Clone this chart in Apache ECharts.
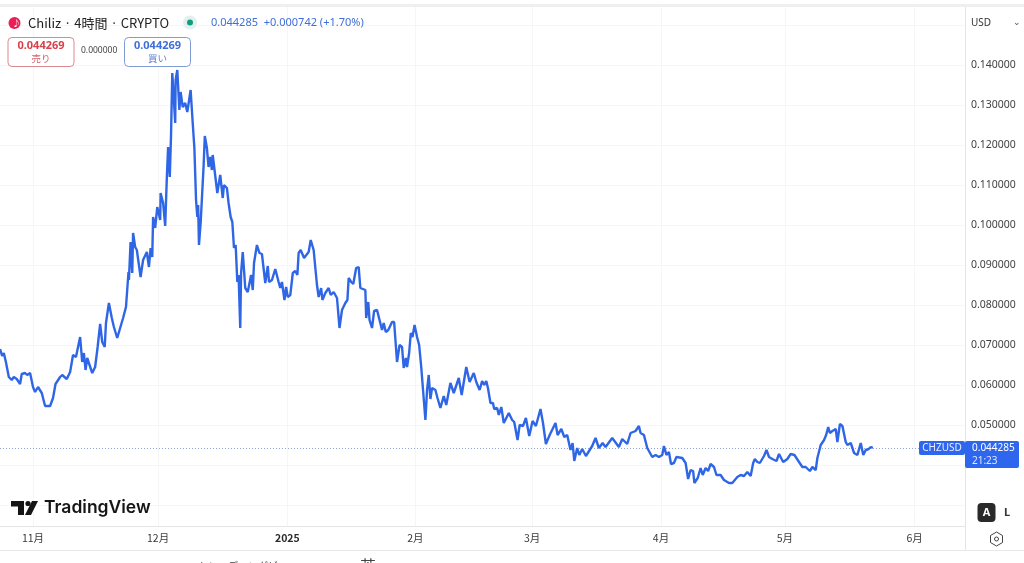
<!DOCTYPE html>
<html><head><meta charset="utf-8">
<style>html,body{margin:0;padding:0;background:#fff}#c{width:1024px;height:563px}</style>
<script src="https://cdn.jsdelivr.net/npm/echarts@6/dist/echarts.min.js"></script>
</head><body><div id="c"></div>
<script>
// Days since 2024-11-01 for each reading
const days = [-7.9,-7.4,-7.0,-6.5,-6.2,-5.8,-5.1,-4.6,-3.9,-3.1,-2.7,-1.9,-1.4,-0.7,0,0.5,1.2,2.1,2.9,4.1,4.8,5.4,6.5,7.0,8.1,8.9,9.6,10.3,11.3,11.8,12.2,12.6,13.0,13.4,14.2,14.9,15.5,16.1,16.6,17.2,17.5,18.2,18.9,19.4,20.2,20.6,21.6,22.3,22.9,23.0,23.4,23.8,24.0,24.5,24.9,25.8,26.4,27.3,27.8,28.2,28.6,28.8,29.3,29.8,30.5,30.6,31.2,31.7,32.1,32.4,32.8,33.1,33.4,33.6,34.1,34.2,34.6,35.1,35.4,35.9,36.5,37.0,37.8,38.3,38.7,39.1,39.4,39.6,39.8,40.2,40.9,41.2,41.7,42.1,42.5,42.9,43.1,44.2,44.9,45.5,45.8,46.5,46.9,47.4,47.8,48.2,48.6,49.0,49.3,49.7,49.9,50.3,50.9,51.5,51.9,52.3,52.7,53.0,53.7,54.3,54.9,55.7,56.3,56.6,57.3,58.1,58.9,59.3,59.7,60.3,60.7,61.1,61.7,62.3,62.9,63.4,63.7,64.2,65.0,66.1,66.6,67.3,68.1,68.5,69.1,69.4,70.1,70.9,71.4,72.1,72.9,73.5,74.1,74.9,75.4,75.7,76.3,76.8,77.5,78.1,78.5,79.7,79.9,80.4,80.7,81.3,81.8,82.5,83.7,84.1,84.6,85.2,86.1,86.6,87.3,87.9,88.5,88.9,89.4,89.7,90.2,90.6,91.0,91.5,92.1,92.6,93.1,93.5,94.1,94.5,94.9,95.3,95.7,96.5,97.0,97.7,98.5,99.1,100.1,100.9,102.1,102.8,103.9,104.7,105.7,106.3,107.1,107.7,108.2,108.7,109.1,109.7,110.3,110.6,111.3,111.7,112.3,112.9,114.1,114.9,115.4,116.2,116.7,117.5,118.2,119.0,119.8,120.6,121.7,122.3,123.0,123.9,125.3,125.8,126.7,127.4,128.1,128.9,129.4,129.8,130.5,131.0,131.7,132.6,134.1,134.9,135.7,136.6,137.3,138.9,140.5,141.3,142.5,143.3,144.5,145.3,145.7,146.5,147.3,148.5,149.3,150.1,150.9,151.3,151.9,152.5,153.0,153.7,154.3,155.7,156.5,157.1,157.7,158.3,158.6,159.4,160.1,160.6,161.3,161.9,162.5,163.3,163.9,164.9,165.7,166.9,167.7,168.9,169.7,170.5,171.3,172.1,172.7,173.1,173.7,174.3,175.3,175.9,176.5,177.3,178.3,178.9,179.9,180.9,181.7,182.6,183.7,184.5,185.3,186.3,186.9,187.7,188.1,188.9,189.7,190.2,190.7,191.1,191.7,192.5,192.9,193.5,194.1,194.9,195.3,196.1,196.9,197.7,198.5,199.1,199.7,200.4,200.9,201.4];
const prices = [.069,.06725,.068,.06575,.0655,.062,.06125,.062,.0615,.06025,.06275,.063,.0625,.063,.0595,.05825,.0595,.058,.05475,.05475,.05675,.06025,.062,.0625,.0615,.06325,.0675,.067,.072,.06575,.068,.06375,.06675,.06625,.063,.0645,.0695,.07525,.07075,.0695,.0755,.0805,.07675,.0745,.07175,.072,.07675,.0795,.08825,.08625,.09575,.088,.098,.0945,.09375,.087,.09125,.09325,.0895,.09425,.092,.102,.09925,.1045,.10125,.108,.1055,.09975,.112,.1195,.112,.1225,.138,.1345,.1255,.13625,.13875,.12875,.13325,.1295,.1305,.12825,.13375,.1255,.11925,.10625,.102,.105,.095,.1005,.1145,.12225,.11925,.1145,.117,.11375,.1175,.108,.1125,.10675,.11,.10925,.1055,.102,.10075,.09425,.095,.08575,.0875,.07425,.088,.09325,.08425,.08325,.083,.0875,.08375,.0905,.095,.093,.09275,.0855,.08975,.08575,.08625,.089,.08575,.08425,.08575,.08125,.0845,.082,.0825,.088,.0885,.0875,.093,.09375,.09175,.09325,.09625,.09375,.085,.082,.08425,.08125,.083,.08425,.0825,.08325,.08175,.07425,.07875,.0805,.08125,.08675,.08575,.08525,.08925,.0895,.08425,.08375,.07675,.08075,.07625,.07425,.0785,.07875,.07375,.0755,.07325,.07375,.07575,.07575,.06575,.07,.0695,.06425,.06675,.0645,.068,.073,.072,.075,.072,.07,.0645,.064,.05125,.05875,.0625,.0565,.05925,.05875,.05675,.05425,.05725,.055,.0605,.058,.06175,.0575,.0645,.06075,.063,.06075,.05875,.061,.06,.061,.05925,.0555,.0555,.054,.05425,.0525,.0545,.0505,.053,.05125,.05075,.04625,.05,.04975,.05175,.04725,.051,.04975,.054,.0505,.04525,.0475,.0505,.0475,.049,.047,.0475,.04375,.0455,.041,.04425,.0425,.044,.04225,.04475,.04675,.04425,.0455,.0445,.04675,.0445,.0465,.04525,.048,.0485,.04975,.048,.0475,.04425,.042,.0425,.042,.0425,.04475,.0425,.04325,.04025,.0405,.042,.04175,.0405,.0365,.03875,.0385,.0355,.03675,.03925,.0375,.03925,.0385,.04025,.0395,.0375,.0375,.03625,.0355,.0355,.037,.0375,.03725,.03825,.03725,.0405,.0415,.04075,.0405,.04225,.04375,.042,.0415,.041,.04275,.04075,.0415,.04275,.0425,.04075,.0395,.0395,.0385,.0395,.03875,.04175,.045,.04625,.0475,.0495,.048,.0485,.049,.04575,.05025,.04975,.04575,.045,.0455,.043,.0425,.0455,.0425,.04375,.044,.0445,.044285];
const lastPrice = 0.044285;
const priceGrid = [.03,.04,.05,.06,.07,.08,.09,.10,.11,.12,.13,.14,.15];
const priceLabels = [.05,.06,.07,.08,.09,.10,.11,.12,.13,.14];
const monthDays = [0,30,61,91.7,119.7,150.6,180.3,211.4];
const monthNames = ['11月','12月','2025','2月','3月','4月','5月','6月'];

const F = '"Noto Sans CJK JP","Noto Sans",sans-serif';
const chart = echarts.init(document.getElementById('c'));
const txt = (x,y,text,fill,size,extra) => ({type:'text',z:50,x,y,style:Object.assign({text,fill,font:`${size}px ${F}`,textVerticalAlign:'middle'},extra||{})});
const rect = (x,y,w,h,fill,extra) => ({type:'rect',z:40,shape:Object.assign({x,y,width:w,height:h},(extra&&extra.r)?{r:extra.r}:{}),style:{fill,stroke:(extra&&extra.stroke)||null,lineWidth:1}});
const poly = (points,fill) => ({type:'polygon',z:50,shape:{points},style:{fill}});

chart.setOption({
  animation:false,
  backgroundColor:'#fff',
  grid:{left:0,right:59,top:7,bottom:37},
  xAxis:{type:'value',min:-7.914,max:223.5,
    axisLine:{show:true,lineStyle:{color:'#e4e4e4'}},
    axisTick:{show:false,customValues:monthDays},
    splitLine:{show:true,lineStyle:{color:'#f6f6f6',width:1}},
    axisLabel:{customValues:monthDays,margin:7,color:'#3a3a3a',fontSize:10.5,fontFamily:F,hideOverlap:false,
      formatter:v=>{const s=monthNames[monthDays.indexOf(v)];return s==='2025'?'{b|2025}':s;},
      rich:{b:{fontWeight:'bold',fontSize:10.5,color:'#2a2a2a',fontFamily:F}}}},
  yAxis:{type:'value',position:'right',min:0.02475,max:0.1545,
    axisLine:{show:true,onZero:false,lineStyle:{color:'#e4e4e4'}},
    axisTick:{show:false,customValues:priceGrid},
    splitLine:{show:true,lineStyle:{color:'#f6f6f6',width:1}},
    axisLabel:{customValues:priceLabels,margin:6,color:'#3f3f3f',fontSize:10.5,fontFamily:'"Noto Sans",sans-serif',
      showMinLabel:true,showMaxLabel:true,formatter:v=>v.toFixed(6)}},
  series:[{type:'line',data:days.map((d,i)=>[d,prices[i]]),showSymbol:false,symbol:'none',
    lineStyle:{color:'#2f66e6',width:2.4},itemStyle:{color:'#2f66e6'},clip:true,z:5,
    markLine:{silent:true,symbol:'none',precision:6,label:{show:false},animation:false,
      lineStyle:{color:'#8fa3d8',type:[1,2],width:1},data:[{yAxis:lastPrice}]}}],
  graphic:[
    rect(0,4,1024,3,'#efefef'),
    rect(0,550,1024,1,'#e8e8e8'),
    rect(965,526,1,24,'#e4e4e4'),
    // header
    {type:'circle',z:50,shape:{cx:14.5,cy:23,r:6},style:{fill:'#ea1f55'}},
    txt(12.5,23,'♪','#fff',8),
    txt(28,23,'Chiliz · 4時間 · CRYPTO','#222',13),
    {type:'circle',z:49,shape:{cx:190,cy:22.5,r:7},style:{fill:'#e3f1ee'}},
    {type:'circle',z:50,shape:{cx:190,cy:22.5,r:3},style:{fill:'#0f9d80'}},
    txt(211,22.5,'0.044285  +0.000742 (+1.70%)','#3f6fd8',11,{font:'11px "Noto Sans",sans-serif'}),
    // sell / buy boxes
    rect(8,37.5,66,29,'#fff',{stroke:'#d98a8f',r:4}),
    txt(41,46,'0.044269','#d8404a',11,{textAlign:'center',font:'bold 11px "Noto Sans",sans-serif'}),
    txt(41,58.5,'売り','#d8606a',9.5,{textAlign:'center'}),
    txt(81,51,'0.000000','#444',8.5,{font:'8.5px "Noto Sans",sans-serif'}),
    rect(124.5,37.5,66,29,'#fff',{stroke:'#7f9bd4',r:4}),
    txt(157.5,46,'0.044269','#3f6fd8',11,{textAlign:'center',font:'bold 11px "Noto Sans",sans-serif'}),
    txt(157.5,58.5,'買い','#5f80c8',9.5,{textAlign:'center'}),
    // currency selector
    rect(966,8,58,26,'#fff'),
    txt(971,23,'USD','#333',10,{font:'10px "Noto Sans",sans-serif'}),
    txt(1013,22,'⌄','#555',9),
    // logo
    poly([[11,501],[24,501],[24,515],[18,515],[18,506.5],[11,506.5]],'#151515'),
    {type:'circle',z:50,shape:{cx:28,cy:503.5,r:2.6},style:{fill:'#151515'}},
    poly([[32,501],[38,501],[31,515],[25,515]],'#151515'),
    txt(44,508,'TradingView','#151515',17,{font:'600 17.5px Inter,sans-serif'}),
    // last price tags
    rect(919,441,46,14,'#2f66ee',{r:2}),
    txt(942,448.5,'CHZUSD','#e8eeff',10,{textAlign:'center',font:'10px "Noto Sans",sans-serif'}),
    rect(965,441,54,27,'#2f66ee',{r:2}),
    txt(972,448.5,'0.044285','#fff',10,{font:'10px "Noto Sans",sans-serif'}),
    txt(972,461,'21:23','#e0e8ff',10,{font:'10px "Noto Sans",sans-serif'}),
    // A / L buttons
    rect(977.5,503,18,19,'#2a2a2a',{r:4}),
    txt(986.5,513,'A','#fff',11,{textAlign:'center',font:'bold 11px "Noto Sans",sans-serif'}),
    rect(998,503,18,19,'#fff',{r:4}),
    txt(1007,513,'L','#333',11,{textAlign:'center',font:'bold 11px "Noto Sans",sans-serif'}),
    // settings icon
    {type:'polygon',z:50,shape:{points:[[996.5,532],[1002.5,535.5],[1002.5,542.5],[996.5,546],[990.5,542.5],[990.5,535.5]]},style:{fill:'#fff',stroke:'#444',lineWidth:1}},
    {type:'circle',z:51,shape:{cx:996.5,cy:539,r:2},style:{fill:'#fff',stroke:'#444',lineWidth:1}},
    // clipped text at the bottom edge
    txt(198,566,'トレーディングビュー','#444',10),
    txt(360,566,'英','#444',16)
  ]
});
</script></body></html>
